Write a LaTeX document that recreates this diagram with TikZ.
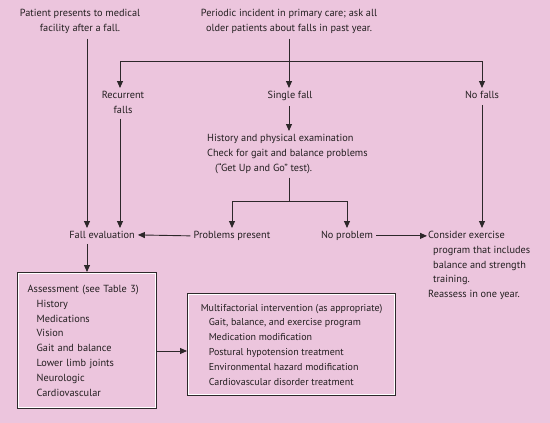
\documentclass[tikz,border=0pt]{standalone}
\usepackage{fontspec}
\setmainfont{PT Sans}
\usetikzlibrary{arrows.meta,calc}
\definecolor{bg}{RGB}{236,197,221}
\definecolor{ink}{RGB}{35,31,32}
\definecolor{ln}{RGB}{45,40,42}
\begin{document}
\begin{tikzpicture}[x=1pt,y=-1pt,
  every node/.style={text=ink,font=\fontsize{10.3}{14.8}\selectfont,inner sep=0pt},
  lbl/.style={align=center},
  arr/.style={draw=ln,line width=0.9pt,-{Triangle[length=7pt,width=6pt]}},
  lin/.style={draw=ln,line width=0.9pt},
  box/.style={draw=ln,line width=1.3pt,align=left,anchor=north west},
  inner/.style={draw=white,line width=0.8pt},
]
\fill[bg] (0,0) rectangle (550,423);
\useasboundingbox (0,0) rectangle (550,423);

\node[lbl,anchor=north] (pat) at (80,9) {Patient presents to medical\\facility after a fall.};
\node[lbl,anchor=north] (per) at (289,9) {Periodic incident in primary care; ask all\\older patients about falls in past year.};
\node[lbl,anchor=north] (rec) at (123,91) {Recurrent\\falls};
\node[lbl,anchor=north] (single) at (290,91) {Single fall};
\node[lbl,anchor=north] (nofalls) at (482,91) {No falls};
\node[align=left,anchor=north west] (hist) at (207,134) {History and physical examination\\Check for gait and balance problems\\\hspace*{8pt}(“Get Up and Go” test).};
\node[anchor=north] (prob) at (232,231) {Problems present};
\node[anchor=north] (nop) at (347,231) {No problem};
\node[anchor=north] (fall) at (102,231) {Fall evaluation};
\node[align=left,anchor=north west] (cons) at (428,231) {Consider exercise\\\hspace*{5pt}program that includes\\\hspace*{5pt}balance and strength\\\hspace*{5pt}training.\\Reassess in one year.};

\node[box,text width=119pt,inner xsep=10pt,minimum height=136pt] (assess) at (17,272) {Assessment (see Table 3)\\
\hspace*{9pt}History\\\hspace*{9pt}Medications\\\hspace*{9pt}Vision\\\hspace*{9pt}Gait and balance\\\hspace*{9pt}Lower limb joints\\\hspace*{9pt}Neurologic\\\hspace*{9pt}Cardiovascular};
\node[box,minimum width=208pt,minimum height=102pt,font=\fontsize{10}{14.8}\selectfont] (multi) at (187,293) {Multifactorial intervention (as appropriate)\\
\hspace*{8pt}Gait, balance, and exercise program\\\hspace*{8pt}Medication modification\\\hspace*{8pt}Postural hypotension treatment\\\hspace*{8pt}Environmental hazard modification\\\hspace*{8pt}Cardiovascular disorder treatment};
\draw[inner] ($(assess.north west)+(1.5,1.5)$) rectangle ($(assess.south east)+(-1.5,-1.5)$);
\draw[inner] ($(multi.north west)+(1.5,1.5)$) rectangle ($(multi.south east)+(-1.5,-1.5)$);

\coordinate (colA) at (87,0);
\coordinate (br1) at (289,61);
\coordinate (br2) at (289,201);
\coordinate (row) at (0,351);

\draw[arr] ($(pat.south -| colA)+(0,5)$) -- ($(fall.north -| colA)+(0,-3)$);
\draw[arr] ($(per.south)+(0,5)$) -- ($(single.north -| per.south)+(0,-3)$);
\draw[arr] (br1) -| ($(rec.north)+(-3,-3)$);
\draw[arr] (br1) -| ($(nofalls.north)+(0,-3)$);
\draw[arr] ($(rec.south)+(-3,5)$) -- ($(fall.north -| rec.south)+(-3,-3)$);
\draw[arr] ($(single.south)+(-1,5)$) -- ($(hist.north -| single.south)+(-1,-3)$);
\draw[lin] ($(hist.south -| br2)+(0,4)$) -- (br2);
\draw[arr] (br2) -| ($(prob.north)+(0,-3)$);
\draw[arr] (br2) -| ($(nop.north)+(0,-3)$);
\draw[arr] ($(prob.west)+(-3,0)$) -- ($(fall.east)+(3,0)$);
\draw[arr] ($(nop.east)+(3,0)$) -- ($(nop.east -| cons.west)+(-1,0)$);
\draw[arr] ($(nofalls.south)+(0,6)$) -- ($(nofalls.south |- cons.north)+(0,-3)$);
\draw[arr] ($(fall.south -| colA)+(0,5)$) -- (assess.north -| colA);
\draw[arr] (assess.east |- row) -- (multi.west |- row);
\end{tikzpicture}
\end{document}
